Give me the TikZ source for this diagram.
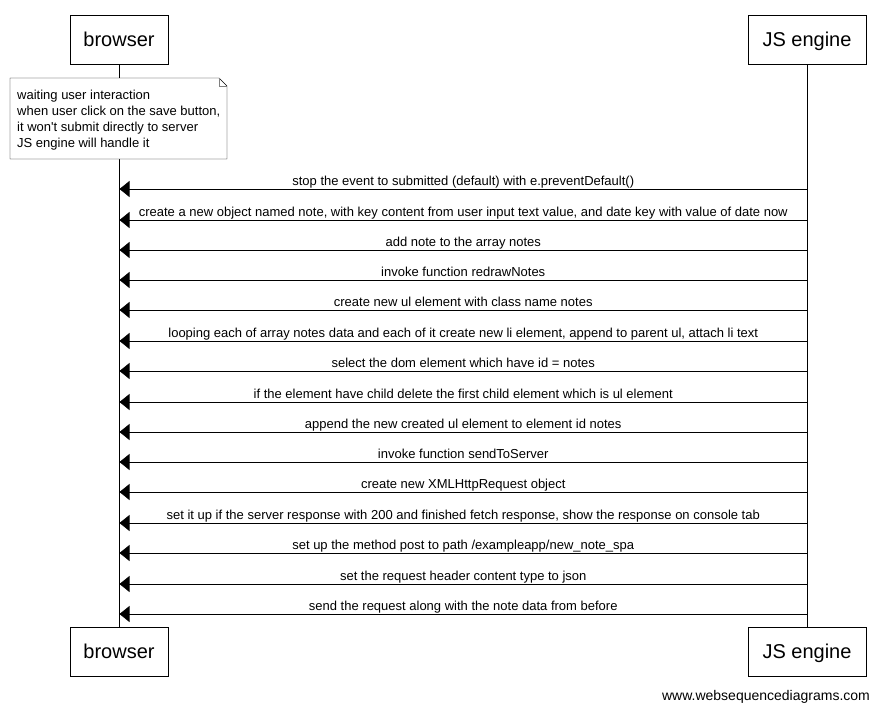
\documentclass[tikz,border=0pt]{standalone}
\usepackage{fontspec}
\setmainfont{Liberation Sans}
\usetikzlibrary{arrows.meta}
\tikzset{
  actor/.style={draw, semithick, minimum width=98pt, minimum height=49pt, inner sep=0pt, text height=16pt, text depth=2pt, font=\fontsize{20}{24}\selectfont},
  msg/.style={-{Triangle[length=10pt,width=16pt]}, semithick},
  msgtext/.style={midway, above=0pt, inner sep=0pt, text height=9.5pt, text depth=3pt, font=\fontsize{13}{15}\selectfont}
}
\begin{document}
\begin{tikzpicture}[x=1pt,y=-1pt]
\useasboundingbox (0,0) rectangle (881,710);

% Actors
\node[actor] (browsertop) at (119,39.5) {browser};
\node[actor, minimum width=118pt] (jstop) at (807,39.5) {JS engine};
\node[actor] (browserbot) at (119,651.5) {browser};
\node[actor, minimum width=118pt] (jsbot) at (807,651.5) {JS engine};

% Lifelines
\draw (browsertop) -- (browserbot);
\draw (jstop) -- (jsbot);

% Note
\draw[fill=white] (10,78) -- (219,78) -- (227,86) -- (227,159) -- (10,159) -- cycle;
\draw[gray] (219,78) -- (219,86) -- (227,86);
\node[anchor=north west, align=left, inner sep=0pt, font=\fontsize{13}{16}\selectfont] (note) at (17,90)
  {waiting user interaction\\when user click on the save button,\\it won\textquotesingle t submit directly to server\\JS engine will handle it};

% Messages
\foreach \y/\txt [count=\i] in {
  189/{stop the event to submitted (default) with e.preventDefault()},
  220/{create a new object named note, with key content from user input text value, and date key with value of date now},
  250/{add note to the array notes},
  280/{invoke function redrawNotes},
  310/{create new ul element with class name notes},
  341/{looping each of array notes data and each of it create new li element, append to parent ul, attach li text},
  371/{select the dom element which have id = notes},
  402/{if the element have child delete the first child element which is ul element},
  432/{append the new created ul element to element id notes},
  462/{invoke function sendToServer},
  492/{create new XMLHttpRequest object},
  523/{set it up if the server response with 200 and finished fetch response, show the response on console tab},
  553/{set up the method post to path /exampleapp/new\_note\_spa},
  584/{set the request header content type to json},
  614/{send the request along with the note data from before}
}{
  \coordinate (js\i) at (807,\y);
  \coordinate (br\i) at (119.5,\y);
  \draw[msg] (js\i) -- (br\i) node[msgtext] {\txt};
}

\node[font=\fontsize{14}{16}\selectfont] (site) at (766,697) {www.websequencediagrams.com};

\end{tikzpicture}
\end{document}
